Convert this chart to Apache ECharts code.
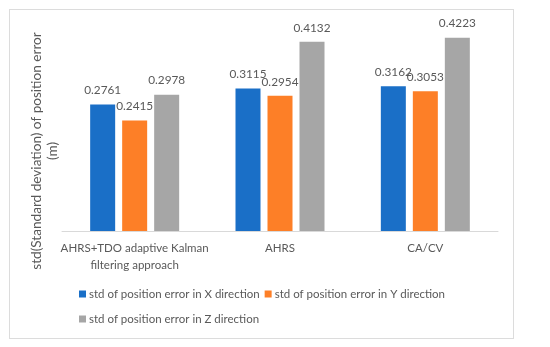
<!DOCTYPE html>
<html><head><meta charset="utf-8">
<script src="https://cdn.jsdelivr.net/npm/echarts@6/dist/echarts.min.js"></script>
<style>
html,body{margin:0;padding:0;background:#fff;}
#frame{position:absolute;left:9px;top:9px;width:503px;height:328px;border:1px solid #dcdcdc;}
#chart{position:absolute;left:0;top:0;width:550px;height:347px;}
</style></head>
<body>
<div id="frame"></div>
<div id="chart"></div>
<script>
const categories = ["AHRS+TDO adaptive Kalman filtering approach", "AHRS", "CA/CV"];
const seriesNames = ["std of position error in X direction", "std of position error in Y direction", "std of position error in Z direction"];
const xValues = [0.2761, 0.3115, 0.3162];
const yValues = [0.2415, 0.2954, 0.3053];
const zValues = [0.2978, 0.4132, 0.4223];
const colors = ["#1a6fc7", "#fd7f27", "#a6a6a6"];
const yAxisName = "std(Standard deviation) of position error\n(m)";

const FONT = "Lato";
const TXT = "#595959";
const chart = echarts.init(document.getElementById('chart'));
const mk = (name, data, color) => ({
  name, type: 'bar', data, barWidth: 25, barGap: '28%',
  itemStyle: {color},
  label: {show: true, position: 'top', distance: 8, color: TXT, fontFamily: FONT, fontSize: 11.8,
    formatter: p => p.value.toFixed(4)}
});
chart.setOption({
  animation: false,
  textStyle: {fontFamily: FONT},
  grid: {left: 62, right: 52, top: 25, bottom: 116, outerBoundsMode: 'none', containLabel: false},
  legend: {
    left: 79, top: 284, width: 385, padding: 0, itemGap: 5,
    itemWidth: 7, itemHeight: 7, icon: 'rect',
    textStyle: {color: TXT, fontFamily: FONT, fontSize: 11.5, lineHeight: 20, padding: [0,0,0,-2]},
    data: seriesNames
  },
  graphic: [{
    type: 'text', x: 45, y: 151, rotation: Math.PI / 2, silent: true,
    style: {text: yAxisName, fill: TXT, fontFamily: FONT, fontSize: 13.6, lineHeight: 16,
      align: 'center', verticalAlign: 'middle'}
  }],
  xAxis: {
    type: 'category', data: categories,
    axisLine: {lineStyle: {color: '#d9d9d9'}},
    axisTick: {show: false},
    axisLabel: {color: TXT, fontFamily: FONT, fontSize: 11.5, lineHeight: 17, margin: 9, interval: 0,
      formatter: v => v.replace(' filtering', '\nfiltering')}
  },
  yAxis: {
    type: 'value', min: 0, max: 0.45,
    axisLine: {show: false}, axisTick: {show: false}, axisLabel: {show: false}, splitLine: {show: false}
  },
  series: [mk(seriesNames[0], xValues, colors[0]), mk(seriesNames[1], yValues, colors[1]), mk(seriesNames[2], zValues, colors[2])]
});
</script>
</body></html>
